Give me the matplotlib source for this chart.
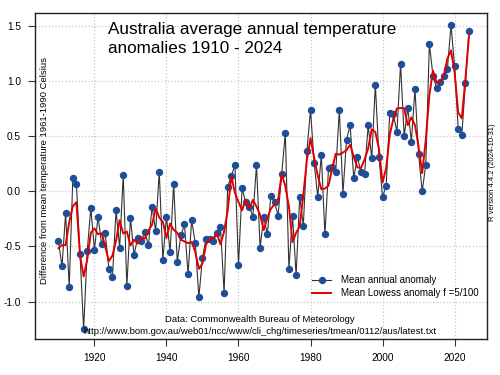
import numpy as np
import matplotlib
matplotlib.use("Agg")
import matplotlib.pyplot as plt
from matplotlib.lines import Line2D

plt.rcParams['font.family'] = ['Liberation Sans', 'DejaVu Sans']
plt.rcParams['axes.unicode_minus'] = False

# Annual mean temperature anomaly, Australia
years = np.arange(1910, 2025)
anomaly = [
    -0.45, -0.68, -0.20, -0.87, 0.12, 0.07, -0.57, -1.25, -0.54, -0.15,   # 1910s
    -0.53, -0.23, -0.48, -0.38, -0.70, -0.78, -0.17, -0.51, 0.15, -0.86,  # 1920s
    -0.24, -0.58, -0.42, -0.45, -0.37, -0.49, -0.14, -0.36, 0.18, -0.62,  # 1930s
    -0.23, -0.55, 0.07, -0.64, -0.40, -0.30, -0.75, -0.26, -0.47, -0.96,  # 1940s
    -0.60, -0.43, -0.43, -0.45, -0.38, -0.32, -0.92, 0.04, 0.14, 0.24,    # 1950s
    -0.67, 0.03, -0.10, -0.14, -0.23, 0.24, -0.51, -0.23, -0.39, -0.04,   # 1960s
    -0.10, -0.22, 0.16, 0.53, -0.70, -0.22, -0.76, -0.05, -0.31, 0.37,    # 1970s
    0.74, 0.26, -0.05, 0.33, -0.39, 0.21, 0.22, 0.18, 0.74, -0.02,        # 1980s
    0.47, 0.60, 0.12, 0.31, 0.18, 0.16, 0.60, 0.30, 0.97, 0.31,           # 1990s
    -0.05, 0.05, 0.71, 0.70, 0.54, 1.16, 0.50, 0.76, 0.45, 0.93,          # 2000s
    0.34, 0.00, 0.24, 1.34, 1.05, 0.94, 0.99, 1.05, 1.11, 1.51,           # 2010s
    1.14, 0.57, 0.51, 0.98, 1.46,                                          # 2020s
]
lowess_f = 5 / 100
yticks = [-1.0, -0.5, 0.0, 0.5, 1.0, 1.5]
xticks = [1920, 1940, 1960, 1980, 2000, 2020]


# port of R's clowess (lowess(x, y, f, iter=3))
def lowest(x, y, xs, nleft, nright, rw, userw):
    n = len(x)
    h = max(xs - x[nleft], x[nright] - xs)
    h9, h1 = 0.999 * h, 0.001 * h
    w = np.zeros(n)
    a = 0.0
    j = nleft
    while j < n:
        r = abs(x[j] - xs)
        if r <= h9:
            w[j] = 1.0 if r <= h1 else (1 - (r / h) ** 3) ** 3
            if userw:
                w[j] *= rw[j]
            a += w[j]
        elif x[j] > xs:
            break
        j += 1
    sl = slice(nleft, j)
    if a <= 0:
        return 0.0, False
    w[sl] /= a
    if h > 0:
        a = np.sum(w[sl] * x[sl])
        b = xs - a
        c = np.sum(w[sl] * (x[sl] - a) ** 2)
        if np.sqrt(c) > 0.001 * (x[-1] - x[0]):
            b /= c
            w[sl] *= b * (x[sl] - a) + 1
    return np.sum(w[sl] * y[sl]), True


def clowess(x, y, f, nsteps=3):
    x = np.asarray(x, float)
    y = np.asarray(y, float)
    n = len(x)
    delta = 0.01 * (x[-1] - x[0])
    ns = max(2, min(n, int(f * n + 1e-7)))
    ys = np.zeros(n)
    rw = np.ones(n)
    for it in range(nsteps + 1):
        nleft, nright, last, i = 0, ns - 1, -1, 0
        while True:
            if nright < n - 1:
                if x[i] - x[nleft] > x[nright + 1] - x[i]:
                    nleft += 1
                    nright += 1
                    continue
            ys[i], ok = lowest(x, y, x[i], nleft, nright, rw, it > 0)
            if not ok:
                ys[i] = y[i]
            if last < i - 1:
                for k in range(last + 1, i):
                    al = (x[k] - x[last]) / (x[i] - x[last])
                    ys[k] = al * ys[i] + (1 - al) * ys[last]
            last = i
            cut = x[last] + delta
            i = last + 1
            while i < n:
                if x[i] > cut:
                    break
                if x[i] == x[last]:
                    ys[i] = ys[last]
                    last = i
                i += 1
            i = max(last + 1, i - 1)
            if last >= n - 1:
                break
        if it >= nsteps:
            break
        r = np.abs(y - ys)
        cmad = 6 * np.median(r)
        rw = np.where(r <= 0.001 * cmad, 1.0,
                      np.where(r <= 0.999 * cmad, (1 - (r / cmad) ** 2) ** 2, 0.0))
    return ys


smooth = clowess(years, anomaly, lowess_f)

fig = plt.figure(figsize=(5, 3.75), dpi=100)
ax = fig.add_axes([35 / 500, 1 - 339 / 375, 452 / 500, 326 / 375])

ax.set_xlim(1903.5, 2029)
ax.set_ylim(-1.34, 1.62)
ax.set_xticks(xticks)
ax.set_yticks(yticks)
ax.set_yticklabels([f"{v:.1f}" for v in yticks])
ax.grid(True, color="#c8c8c8", linestyle=":", linewidth=0.9)
ax.set_axisbelow(True)
ax.tick_params(labelsize=7.3, length=5, width=0.8, color="#333333", pad=5)
for s in ax.spines.values():
    s.set_color("#222222")
    s.set_linewidth(1.0)

blue = "#1f4e99"
ax.plot(years, anomaly, color="#333333", lw=0.8, marker="o", ms=4.3,
        mfc=blue, mec=blue, zorder=3)
ax.plot(years, smooth, color="#e00000", lw=1.4, zorder=4)

fig.text(108 / 500, 1 - 22 / 375,
         "Australia average annual temperature\nanomalies 1910 - 2024",
         fontsize=12.3, ha="left", va="top", linespacing=1.32)

fig.text(45 / 500, 1 - 171 / 375,
         "Difference from mean temperature 1961-1990 Celsius",
         rotation=90, fontsize=6.8, ha="center", va="center")

fig.text(493 / 500, 1 - 172 / 375, "R version 4.4.2 (2024-10-31)",
         rotation=90, fontsize=5.5, ha="center", va="center")

fig.text(260 / 500, 1 - 319 / 375, "Data: Commonwealth Bureau of Meteorology",
         fontsize=6.8, ha="center", va="center")
fig.text(260 / 500, 1 - 331 / 375,
         "http://www.bom.gov.au/web01/ncc/www/cli_chg/timeseries/tmean/0112/aus/latest.txt",
         fontsize=6.8, ha="center", va="center")

handles = [
    Line2D([], [], color="#333333", lw=0.8, marker="o", ms=4.3, mfc=blue, mec=blue),
    Line2D([], [], color="#e00000", lw=1.4),
]
ax.legend(handles, ["Mean annual anomaly", "Mean Lowess anomaly f =5/100"],
          loc="upper left", bbox_to_anchor=(312 / 500, 1 - 275 / 375),
          bbox_transform=fig.transFigure, frameon=False, fontsize=7.0,
          handlelength=2.0, handletextpad=0.95, labelspacing=0.35,
          borderpad=0, borderaxespad=0)

fig.savefig("out.png", dpi=100)
